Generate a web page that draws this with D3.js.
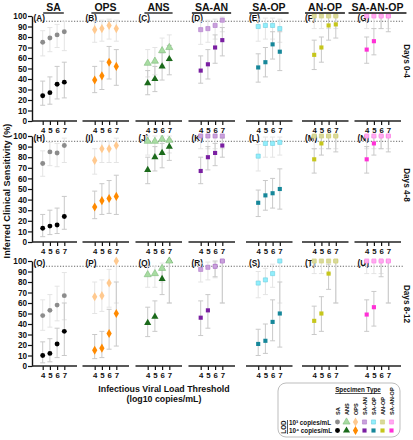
<!DOCTYPE html>
<html><head><meta charset="utf-8">
<script src="https://cdn.jsdelivr.net/npm/d3@7"></script>
<style>
html,body{margin:0;padding:0;background:#fff;}
svg{display:block;font-family:"Liberation Sans",Arial,sans-serif;font-weight:bold;}
</style></head><body>
<svg id="c" width="413" height="440"></svg>
<script>
// ---------------- DATA ----------------
const columns = ["SA","OPS","ANS","SA-AN","SA-OP","AN-OP","SA-AN-OP"];
const rowLabels = ["Days 0-4","Days 4-8","Days 8-12"];
const thresholds = [4,5,6,7];
const yTicks = [0,10,20,30,40,50,60,70,80,90,100];
const panelLetters = ["A","B","C","D","E","F","G","H","I","J","K","L","M","N","O","P","Q","R","S","T","U"];
const refLine = 95;
const legendOrder = ["SA","ANS","OPS","SA-AN","SA-OP","AN-OP","SA-AN-OP"];
const lodLabels = ["10³ copies/mL","10⁴ copies/mL"];

// Days 0-4 : LOD 10^3 (light) and 10^4 (dark); rows = columns order, values at thresholds 4..7
const sens3_d04 = [[75,79,82,85],[87,88,91,88],[55,57,67,70],[87,88,91,96],[90,91,91,88],[100,100,100,100],[100,100,100,100]];
const lo3_d04   = [[62,66,70,67],[75,76,78,76],[42,44,53,57],[73,75,78,85],[76,78,78,75],[88,88,88,88],[88,88,88,88]];
const hi3_d04   = [[86,89,92,95],[95,96,97,96],[68,70,79,82],[95,96,97,99],[97,98,98,97],[100,100,100,100],[100,100,100,100]];
const sens4_d04 = [[24,27,35,37],[39,43,56,52],[36,40,52,59],[48,54,70,77],[51,56,73,66],[63,70,91,92],[68,76,100,100]];
const lo4_d04   = [[15,16,21,22],[27,30,40,34],[25,28,39,44],[36,40,55,62],[37,42,59,48],[49,56,77,79],[55,63,88,85]];
const hi4_d04   = [[38,42,52,56],[52,57,71,68],[48,52,65,72],[62,68,82,89],[64,70,85,85],[77,80,100,100],[80,88,100,100]];

// Days 4-8
const sens3_d48 = [[74,85,84,91],[77,88,88,91],[95,95,97,96],[100,100,100,100],[81,93,93,94],[100,100,100,100],[100,100,100,100]];
const lo3_d48   = [[62,72,71,75],[64,75,75,75],[82,82,85,84],[88,88,88,88],[67,80,80,82],[88,88,88,88],[88,88,88,88]];
const hi3_d48   = [[86,94,93,98],[88,95,95,98],[100,100,100,100],[100,100,100,100],[92,99,99,99],[100,100,100,100],[100,100,100,100]];
const sens4_d48 = [[13,15,16,24],[33,39,41,43],[68,80,84,90],[67,80,84,91],[37,44,46,50],[78,93,100,100],[78,93,100,100]];
const lo4_d48   = [[5,7,8,12],[22,26,27,26],[55,67,70,77],[55,68,72,80],[24,30,32,31],[65,82,88,85],[65,82,88,85]];
const hi4_d48   = [[26,30,32,43],[48,55,58,63],[80,90,93,97],[80,90,93,98],[49,58,60,69],[88,99,100,100],[90,99,100,100]];

// Days 8-12
const sens3_d812 = [[48,53,58,67],[66,67,79,100],[87,88,93,100],[92,94,95,100],[79,82,88,100],[100,100,100,100],[100,100,100,100]];
const lo3_d812   = [[34,37,43,44],[50,52,56,60],[75,75,80,60],[80,82,84,60],[65,68,75,60],[88,88,88,60],[88,88,88,60]];
const hi3_d812   = [[63,68,76,89],[80,82,92,100],[95,95,98,100],[98,99,99,100],[90,93,97,100],[100,100,100,100],[100,100,100,100]];
const sens4_d812 = [[10,12,21,33],[15,17,31,50],[41,47,83,100],[46,53,95,100],[21,24,42,50],[43,50,88,100],[49,56,100,100]];
const lo4_d812   = [[3,4,8,10],[7,8,16,19],[28,33,68,60],[29,36,85,60],[10,12,24,18],[30,33,73,60],[33,38,85,60]];
const hi4_d812   = [[23,26,36,60],[30,33,54,80],[56,62,93,100],[62,68,100,100],[35,40,63,80],[57,66,97,100],[63,71,100,100]];

const rowsData = [
  {s3:sens3_d04,l3:lo3_d04,h3:hi3_d04,s4:sens4_d04,l4:lo4_d04,h4:hi4_d04},
  {s3:sens3_d48,l3:lo3_d48,h3:hi3_d48,s4:sens4_d48,l4:lo4_d48,h4:hi4_d48},
  {s3:sens3_d812,l3:lo3_d812,h3:hi3_d812,s4:sens4_d812,l4:lo4_d812,h4:hi4_d812}
];

// ---------------- STYLE ----------------
const lightColors = {"SA":"#8c8c8c","OPS":"#ffc98f","ANS":"#a8dca2","SA-AN":"#c9a1dc","SA-OP":"#91eefc","AN-OP":"#d8d89c","SA-AN-OP":"#ffaaf0"};
const darkColors  = {"SA":"#000000","OPS":"#ff8a00","ANS":"#1b6a1b","SA-AN":"#7a1fa2","SA-OP":"#16879a","AN-OP":"#c6c61c","SA-AN-OP":"#ff30d6"};
const shapes = {"SA":d3.symbolCircle,"OPS":d3.symbolDiamond,"ANS":d3.symbolTriangle};
const shapeSize = {"SA":19,"OPS":24,"ANS":22};
function sym(col){ return d3.symbol().type(shapes[col]||d3.symbolSquare).size(shapeSize[col]||17)(); }

const svg = d3.select("#c");
const colCenters = [53.5,105.5,158.5,211.5,269,325,377.5];
const rowTop = [16,136,261], rowBot = [121,242,366];
const leftAxisX = 32;
const xCol = d3.scaleOrdinal().domain(columns).range(colCenters);

rowsData.forEach((rd, ri) => {
  const y = d3.scaleLinear().domain([0,100]).range([rowBot[ri], rowTop[ri]]);
  const g = svg.append("g");

  // 95% reference line
  g.append("line").attr("x1",leftAxisX).attr("x2",404)
    .attr("y1",y(refLine)).attr("y2",y(refLine))
    .attr("stroke","#555").attr("stroke-width",0.9).attr("stroke-dasharray","1.2,1.6");

  // y axis
  const ya = g.append("g").attr("transform",`translate(${leftAxisX},0)`)
    .call(d3.axisLeft(y).tickValues(yTicks).tickSize(4).tickSizeOuter(0));
  ya.select(".domain").attr("stroke","#111").attr("stroke-width",1.4);
  ya.selectAll(".tick line").attr("stroke","#111").attr("stroke-width",1.2);
  ya.selectAll(".tick text").attr("font-size",8.2).attr("font-weight","bold").attr("fill","#111")
    .attr("font-family","'Liberation Sans',Arial,sans-serif").attr("x",-5);

  columns.forEach((col, ci) => {
    const c = xCol(col);
    const x = d3.scaleLinear().domain([4,7]).range([c-10.8, c+10.8]);
    const pg = g.append("g");
    // x axis
    const xa = pg.append("g").attr("transform",`translate(0,${y(0)})`)
      .call(d3.axisBottom(x).tickValues(thresholds).tickSize(4).tickFormat(d3.format("d")));
    xa.select(".domain").remove();
    xa.selectAll(".tick line").attr("stroke","#111").attr("stroke-width",1.2);
    xa.selectAll(".tick text").attr("font-size",7.8).attr("font-weight","bold").attr("fill","#111")
      .attr("font-family","'Liberation Sans',Arial,sans-serif").attr("dy","0.6em");
    pg.append("line").attr("x1", ci===0 ? leftAxisX : c-23).attr("x2", c+23.5)
      .attr("y1",y(0)).attr("y2",y(0)).attr("stroke","#222").attr("stroke-width",1.5);

    // panel letter
    pg.append("text").attr("x", c-20).attr("y", y(100)+4.5)
      .attr("font-size",8.2).attr("fill","#111").text(`(${panelLetters[ri*7+ci]})`);

    const pts3 = thresholds.map((t,k)=>({t, v:rd.s3[ci][k], lo:rd.l3[ci][k], hi:rd.h3[ci][k]}));
    const pts4 = thresholds.map((t,k)=>({t, v:rd.s4[ci][k], lo:rd.l4[ci][k], hi:rd.h4[ci][k]}));

    function bars(pts, color){
      const eb = pg.append("g").attr("stroke",color).attr("stroke-width",1).attr("fill","none");
      eb.selectAll("line.v").data(pts).join("line").attr("class","v")
        .attr("x1",d=>x(d.t)).attr("x2",d=>x(d.t)).attr("y1",d=>y(d.lo)).attr("y2",d=>y(d.hi));
      eb.selectAll("line.a").data(pts).join("line").attr("class","a")
        .attr("x1",d=>x(d.t)-2.5).attr("x2",d=>x(d.t)+2.5).attr("y1",d=>y(d.lo)).attr("y2",d=>y(d.lo));
      eb.selectAll("line.b").data(pts).join("line").attr("class","b")
        .attr("x1",d=>x(d.t)-2.5).attr("x2",d=>x(d.t)+2.5).attr("y1",d=>y(d.hi)).attr("y2",d=>y(d.hi));
    }
    bars(pts3, "#e4e4e4");
    bars(pts4, "#c9c9c9");

    pg.selectAll("path.m4").data(pts4).join("path").attr("class","m4")
      .attr("d", sym(col)).attr("transform",d=>`translate(${x(d.t)},${y(d.v)})`)
      .attr("fill", darkColors[col]);
    const strokeLight = d3.interpolateRgb(lightColors[col], darkColors[col])(0.3);
    pg.selectAll("path.m3").data(pts3).join("path").attr("class","m3")
      .attr("d", sym(col)).attr("transform",d=>`translate(${x(d.t)},${y(d.v)})`)
      .attr("fill", lightColors[col]).attr("stroke", col==="SA"||col==="OPS" ? "none" : strokeLight).attr("stroke-width",0.6);
  });

  // row label
  const rowCenters = [61,185,304];
  svg.append("text").attr("transform",`translate(404,${rowCenters[ri]}) rotate(90)`)
    .attr("text-anchor","middle").attr("font-size",8.2).attr("fill","#111").text(rowLabels[ri]);
});

// column headers
columns.forEach(col => {
  const c = xCol(col);
  const t = svg.append("text").attr("x",c).attr("y",11).attr("text-anchor","middle")
    .attr("font-size",10.5).attr("fill","#111").text(col);
  const w = t.node().getComputedTextLength();
  svg.append("line").attr("x1",c-w/2-3).attr("x2",c+w/2+3).attr("y1",13).attr("y2",13)
    .attr("stroke","#111").attr("stroke-width",1.3);
});

// axis titles
svg.append("text").attr("transform","translate(10,191) rotate(-90)").attr("text-anchor","middle")
  .attr("font-size",9.2).attr("fill","#111").text("Inferred Clinical Sensitivity (%)");
svg.append("text").attr("x",164).attr("y",392).attr("text-anchor","middle")
  .attr("font-size",8.8).attr("fill","#111").text("Infectious Viral Load Threshold");
svg.append("text").attr("x",164).attr("y",402).attr("text-anchor","middle")
  .attr("font-size",8.8).attr("fill","#111").text("(log10 copies/mL)");

// legend
const lg = svg.append("g");
lg.append("rect").attr("x",278).attr("y",383).attr("width",122).attr("height",54).attr("rx",8)
  .attr("fill","#fff").attr("stroke","#bdbdbd").attr("stroke-width",1);
const st = lg.append("text").attr("x",358).attr("y",392).attr("text-anchor","middle")
  .attr("font-size",6.3).attr("fill","#111").text("Specimen Type");
const stw = st.node().getComputedTextLength();
lg.append("line").attr("x1",358-stw/2).attr("x2",358+stw/2).attr("y1",393.5).attr("y2",393.5).attr("stroke","#111").attr("stroke-width",0.7);
const legX = d3.scalePoint().domain(legendOrder).range([337.5,391.5]);
legendOrder.forEach(col => {
  lg.append("text").attr("transform",`translate(${legX(col)+2},415) rotate(-90)`)
    .attr("font-size",5.6).attr("fill","#111").text(col);
  lg.append("path").attr("d",sym(col)).attr("transform",`translate(${legX(col)},422)`)
    .attr("fill",lightColors[col]).attr("stroke", col==="SA"||col==="OPS"?"none":d3.interpolateRgb(lightColors[col],darkColors[col])(0.3)).attr("stroke-width",0.6);
  lg.append("path").attr("d",sym(col)).attr("transform",`translate(${legX(col)},430.5)`)
    .attr("fill",darkColors[col]);
});
lodLabels.forEach((t,i)=>{
  lg.append("text").attr("x",289).attr("y",424.5+i*8.5).attr("font-size",6.3).attr("fill","#111").text(t);
});
lg.append("text").attr("transform","translate(286,427) rotate(-90)").attr("text-anchor","middle")
  .attr("font-size",6.3).attr("fill","#111").text("LOD");
lg.append("line").attr("x1",287.5).attr("x2",287.5).attr("y1",420).attr("y2",434).attr("stroke","#111").attr("stroke-width",0.7);
</script>
</body></html>
